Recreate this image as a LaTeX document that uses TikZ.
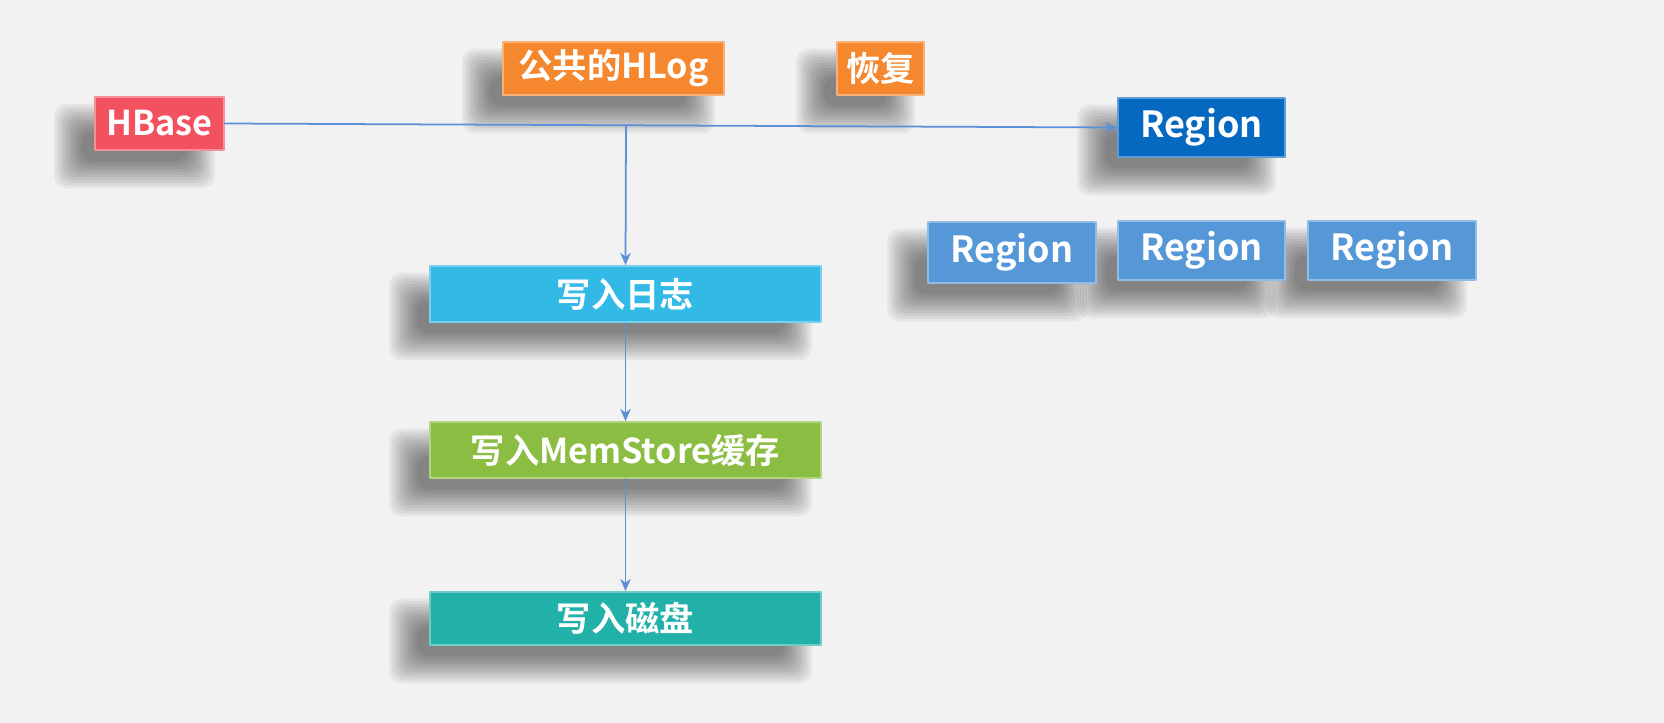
\documentclass[tikz,border=0pt]{standalone}
\usepackage{fontspec}
\newfontfamily\cjk{Noto Sans CJK SC}[BoldFont={Noto Sans CJK SC Bold}]
\usetikzlibrary{arrows.meta}
\pgfdeclarelayer{bg}\pgfdeclarelayer{shade}
\pgfsetlayers{bg,shade,main}
\definecolor{bggray}{HTML}{F2F2F3}
\definecolor{hbred}{HTML}{F2525F}
\definecolor{logorange}{HTML}{F5872F}
\definecolor{regdark}{HTML}{0569C2}
\definecolor{reglight}{HTML}{5698D7}
\definecolor{logcyan}{HTML}{33B9E6}
\definecolor{memgreen}{HTML}{8BBD42}
\definecolor{diskteal}{HTML}{21B1A8}
\definecolor{linkblue}{HTML}{5B8FD8}
\begin{document}
\begin{tikzpicture}[x=0.02cm, y=-0.02cm, >={Stealth[length=7pt,width=6pt]}, font=\cjk\bfseries\fontsize{19.5}{22}\selectfont, line join=round, line cap=round,
	box/.style={draw=#1!65!white, line width=1pt, fill=#1, text=white, inner sep=0pt},
	bigtxt/.style={font=\cjk\bfseries\fontsize{20.5}{23}\selectfont},
	link/.style={draw=linkblue, line width=1pt}]
	\begin{pgfonlayer}{bg}
		\fill[bggray] (0,0) rectangle (1664,723);
	\end{pgfonlayer}
	\useasboundingbox (0,0) rectangle (1664,723);
	% Knoten oben
	\node[box=hbred, minimum width=2.58cm, minimum height=1.06cm] (hbase) at (159.5,123.5) {HBase};
	\node[box=logorange, minimum width=4.42cm, minimum height=1.06cm] (hlog) at (613.5,68.5) {公共的HLog};
	\node[box=logorange, minimum width=1.74cm, minimum height=1.06cm] (recover) at (880.5,68.5) {恢复};
	\node[box=regdark, bigtxt, minimum width=3.34cm, minimum height=1.18cm] (region) at (1201.5,127.5) {Region};
	% drei Regionen
	\node[box=reglight, bigtxt, minimum width=3.36cm, minimum height=1.22cm] (rega) at (1012,252.5) {Region};
	\node[box=reglight, bigtxt, minimum width=3.34cm, minimum height=1.18cm] (regb) at (1201.5,250.5) {Region};
	\node[box=reglight, bigtxt, minimum width=3.36cm, minimum height=1.18cm] (regc) at (1392,250.5) {Region};
	% Schreibpfad
	\node[box=logcyan, minimum width=7.82cm, minimum height=1.12cm] (wlog) at (625.5,294) {写入日志};
	\node[box=memgreen, minimum width=7.82cm, minimum height=1.12cm] (wmem) at (625.5,450) {写入MemStore缓存};
	\node[box=diskteal, minimum width=7.82cm, minimum height=1.06cm] (wdisk) at (625.5,618.5) {写入磁盘};
	% weiche Schatten
	\begin{pgfonlayer}{shade}
		\foreach \n in {hbase,hlog,recover,region,rega,regb,regc,wlog,wmem,wdisk}
		\foreach \i in {0,...,10}
		\fill[black, opacity=0.05, rounded corners=0.25cm]
			([xshift=-0.5cm-0.3cm+\i*0.055cm, yshift=-0.45cm-0.3cm+\i*0.055cm]\n.south west)
			rectangle ([xshift=-0.5cm+0.3cm-\i*0.055cm, yshift=-0.45cm+0.3cm-\i*0.055cm]\n.north east);
	\end{pgfonlayer}
	\coordinate (split) at (626,125.8);
	\draw[link,->] (hbase.east) -- (region.west);
	\draw[link,->] (split) -- (wlog.north);
	\draw[link,->] (wlog.south) -- (wmem.north);
	\draw[link,->] (wmem.south) -- (wdisk.north);
\end{tikzpicture}
\end{document}
